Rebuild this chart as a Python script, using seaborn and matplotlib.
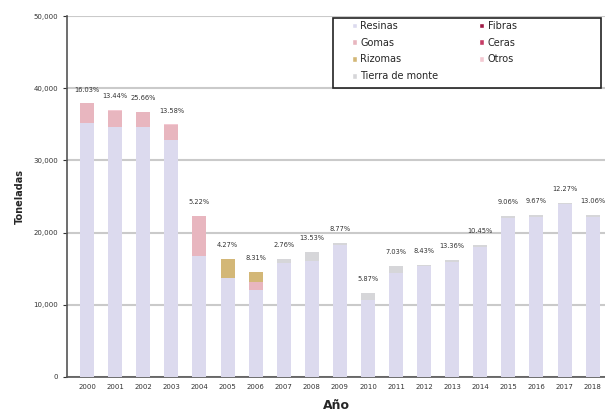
import numpy as np
import pandas as pd
import matplotlib
matplotlib.use('Agg')
import matplotlib.pyplot as plt
import seaborn as sns
from matplotlib.patches import Patch, Rectangle
from matplotlib.ticker import FuncFormatter, MultipleLocator

# ── Data (toneladas) ───────────────────────────────────────────────────────────
years = ['2000', '2001', '2002', '2003', '2004', '2005', '2006', '2007', '2008', '2009',
         '2010', '2011', '2012', '2013', '2014', '2015', '2016', '2017', '2018']

resinas = [35200, 34600, 34600, 32800, 16700, 13700, 12000, 15800, 16000, 18300,
           10700, 14400, 15300, 15900, 18000, 22000, 22100, 23900, 22200]
gomas   = [2700, 2300, 2050, 2100, 5650, 0, 1100, 0, 0, 0,
           0, 0, 0, 0, 0, 0, 0, 0, 0]
rizomas = [0, 0, 0, 0, 0, 2700, 1400, 0, 0, 0,
           0, 0, 0, 0, 0, 0, 0, 0, 0]
tierra  = [0, 0, 0, 0, 0, 0, 0, 500, 1300, 200,
           900, 950, 200, 300, 250, 300, 300, 200, 250]
fibras  = [0] * 19
ceras   = [0] * 19
otros   = [0, 50, 50, 100, 0, 0, 50, 0, 0, 50,
           0, 0, 0, 0, 0, 0, 0, 0, 0]

pct_labels = ['16.03%', '13.44%', '25.66%', '13.58%', '5.22%', '4.27%', '8.31%', '2.76%',
              '13.53%', '8.77%', '5.87%', '7.03%', '8.43%', '13.36%', '10.45%', '9.06%',
              '9.67%', '12.27%', '13.06%']

categories = ['Resinas', 'Gomas', 'Rizomas', 'Tierra de monte', 'Fibras', 'Ceras', 'Otros']
series = [resinas, gomas, rizomas, tierra, fibras, ceras, otros]
colors = ['#dcdaee', '#e8b6bf', '#d3b777', '#d6d6d9', '#9e1b45', '#c63c66', '#f3c9d2']

# ── Figure ─────────────────────────────────────────────────────────────────────
sns.set_style('white')
plt.rcParams['font.family'] = ['DejaVu Sans']

fig = plt.figure(figsize=(6.05, 4.15), dpi=100)
ax = fig.add_axes([0.111, 0.092, 0.889, 0.869])

# stacked bars: draw cumulative sums from the top layer down
cum = np.cumsum(np.array(series), axis=0)
for i in range(len(categories) - 1, -1, -1):
    df = pd.DataFrame({'year': years, 'value': cum[i]})
    sns.barplot(data=df, x='year', y='value', color=colors[i], width=0.5,
                saturation=1, linewidth=0, edgecolor='none', ax=ax, zorder=3)

totals = cum[-1]
for i, (t, lab) in enumerate(zip(totals, pct_labels)):
    ax.text(i, t + 1500, lab, ha='center', va='bottom', fontsize=4.8, color='#333333', zorder=4)

ax.set_ylim(0, 50000)
ax.set_xlim(-0.71, 18.44)
ax.yaxis.set_major_locator(MultipleLocator(10000))
ax.yaxis.set_major_formatter(FuncFormatter(lambda v, p: f'{int(v):,}'))
ax.grid(axis='y', color='#cacaca', lw=1.5, zorder=0)
ax.set_axisbelow(True)

ax.set_xticks(np.arange(-0.5, 18.5, 1.0), minor=True)
ax.tick_params(axis='x', which='major', length=0, labelsize=5, pad=5, colors='#333333')
ax.tick_params(axis='x', which='minor', length=3, width=0.6, color='#c0c0c0', direction='in')
ax.tick_params(axis='y', which='major', length=3, labelsize=5, colors='#333333', left=True)

for s in ['top', 'right']:
    ax.spines[s].set_visible(False)
ax.spines['left'].set_color('#555555')
ax.spines['bottom'].set_color('#555555')
ax.spines['left'].set_linewidth(1.2)
ax.spines['bottom'].set_linewidth(1.2)

ax.set_xlabel('Año', fontsize=9, fontweight='bold', labelpad=7)
ax.set_ylabel('Toneladas', fontsize=7, fontweight='bold', labelpad=6)

# legend box drawn separately so the columns can sit left like the original
ax.add_patch(Rectangle((0.494, 0.80), 0.4986, 0.194, transform=ax.transAxes,
                       facecolor='white', edgecolor='#222222', lw=1.2,
                       clip_on=False, zorder=5))
handles = [Patch(facecolor=c, label=l) for c, l in zip(colors, categories)]
leg = ax.legend(handles=handles, ncol=2, loc='upper left',
                bbox_to_anchor=(0.53, 0.987), frameon=False,
                fontsize=7, handlelength=0.45, handleheight=0.55, handletextpad=0.4,
                labelspacing=0.7, columnspacing=4.2, borderpad=0, borderaxespad=0)
leg.set_zorder(6)

fig.savefig('out.png', dpi=100)
